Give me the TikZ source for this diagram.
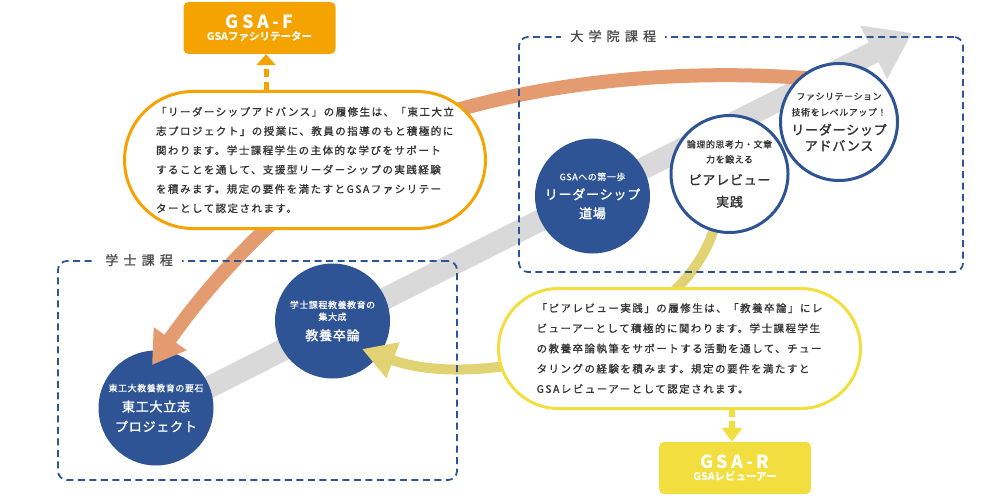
\documentclass[tikz,border=0pt]{standalone}
\usepackage{fontspec}
\setmainfont{Noto Sans CJK JP}
\newfontfamily\bodyfont[LetterSpace=14,FakeBold=0.9]{Noto Sans CJK JP}
\newfontfamily\tagfont[LetterSpace=6,FakeBold=0.8]{Noto Sans CJK JP}
\newfontfamily\stagefont[LetterSpace=6,FakeBold=1.6]{Noto Sans CJK JP}
\newfontfamily\coursefont[LetterSpace=40,FakeBold=1]{Noto Sans CJK JP}
\newfontfamily\gsafont[LetterSpace=18]{Noto Sans CJK JP}
\usetikzlibrary{arrows.meta,positioning}
\definecolor{tkblue}{HTML}{2E5496}
\definecolor{gsaorange}{HTML}{F5A300}
\definecolor{salmon}{HTML}{E49B6F}
\definecolor{gsayellow}{HTML}{F2DF3F}
\definecolor{curveyellow}{HTML}{E1D373}
\definecolor{bandgray}{HTML}{D9D9D9}
\definecolor{inkgray}{HTML}{333333}
\definecolor{labelgray}{HTML}{4A4A4A}
\newcommand\tagline[1]{{\tagfont\fontsize{9}{9}\selectfont #1}}
\tikzset{
  bandarrow/.style={draw=bandgray, line width=22pt, -{Triangle[length=43pt,width=57pt]}},
  curveF/.style={draw=salmon, line width=14pt, -{Triangle[length=32pt,width=38pt]}},
  curveR/.style={draw=curveyellow, line width=10pt, -{Triangle[length=33pt,width=36pt]}},
  course/.style={draw=tkblue, line width=1.8pt, dash pattern=on 7pt off 4.5pt, rounded corners=9pt, inner sep=0pt},
  courselabel/.style={fill=white, inner xsep=9pt, inner ysep=3pt, text=labelgray, font=\coursefont\fontsize{13}{13}\selectfont},
  bubble/.style={draw=#1, line width=3pt, fill=white, align=left, inner sep=0pt, text=inkgray},
  stage/.style={circle, fill=tkblue, minimum size=115pt, inner sep=0pt, align=center, text=white},
  stagering/.style={circle, draw=tkblue, line width=3pt, fill=white, minimum size=117pt, inner sep=0pt, align=center, text=inkgray},
  gsabox/.style={fill=#1, rounded corners=5pt, minimum width=152pt, minimum height=52pt, inner sep=0pt, align=center, text=white},
  dashF/.style={draw=gsaorange, line width=5pt, dash pattern=on 8pt off 5pt, -{Triangle[length=11pt,width=19pt]}},
  dashR/.style={draw=gsayellow, line width=6pt, dash pattern=on 7pt off 4pt, -{Triangle[length=14pt,width=20pt]}}
}
\begin{document}
\begin{tikzpicture}[x=1pt,y=-1pt]
\useasboundingbox (0,0) rectangle (1000,500);
% big grey arrow behind everything
\coordinate (bandtail) at (156,414);
\coordinate (bandtip) at (912,33);
\draw[bandarrow] (bandtail) -- (bandtip);
% filled stages
\node[stage, font=\stagefont\fontsize{13}{20}\selectfont] (kokorozashi) at (156,408) {\tagline{東工大教養教育の要石}\\東工大立志\\プロジェクト};
\node[stage, font=\stagefont\fontsize{13}{20}\selectfont] (sotsuron) at (332.5,321) {\tagline{学士課程教養教育の}\\[-8pt]\tagline{集大成}\\教養卒論};
\node[stage, font=\stagefont\fontsize{13}{19}\selectfont] (dojo) at (592.5,196) {\tagline{GSAへの第一歩}\\リーダーシップ\\道場};
% curved arrows
\coordinate (fstart) at (830,80);
\coordinate (fmid) at (440,115);
\coordinate (ftip) at (152,365);
\draw[curveF] (fstart) .. controls (700,68) and (560,78) .. (fmid) .. controls (344,145) and (232,250) .. (ftip);
\coordinate (rstart) at (716,222);
\coordinate (rtip) at (362,349);
\draw[curveR] (rstart) .. controls (684,345) and (480,392) .. (rtip);
% course frames
\node[course, minimum width=399pt, minimum height=219pt] (gakushi) at (257.5,370.5) {};
\node[courselabel, right=39pt of gakushi.north west] (gakushi-label) {学士課程};
\node[course, minimum width=444pt, minimum height=235pt] (daigakuin) at (741,154.5) {};
\node[courselabel, right=43pt of daigakuin.north west] (daigakuin-label) {大学院課程};
% speech bubbles
\node[bubble=gsaorange, minimum width=361pt, minimum height=137pt, rounded corners=68.5pt, font=\bodyfont\fontsize{10.5}{19.3}\selectfont] (bubbleF) at (305,160)
  {「リーダーシップアドバンス」の履修生は、「東工大立\\志プロジェクト」の授業に、教員の指導のもと積極的に\\関わります。学士課程学生の主体的な学びをサポート\\することを通して、支援型リーダーシップの実践経験\\を積みます。規定の要件を満たすとGSAファシリテー\\ターとして認定されます。};
\node[bubble=gsayellow, minimum width=362pt, minimum height=120pt, rounded corners=60pt, font=\bodyfont\fontsize{10.5}{20.2}\selectfont] (bubbleR) at (679.5,348.5)
  {「ピアレビュー実践」の履修生は、「教養卒論」にレ\\ビューアーとして積極的に関わります。学士課程学生\\の教養卒論執筆をサポートする活動を通して、チュー\\タリングの経験を積みます。規定の要件を満たすと\\GSAレビューアーとして認定されます。};
% ringed stages
\node[stagering, font=\stagefont\fontsize{13}{22}\selectfont] (peer) at (729.5,174) {\tagline{論理的思考力・文章}\\[-7pt]\tagline{力を鍛える}\\ピアレビュー\\実践};
\node[stagering, font=\stagefont\fontsize{13}{16}\selectfont] (advance) at (839,122) {\tagline{ファシリテーション}\\\tagline{技術をレベルアップ！}\\[3pt]リーダーシップ\\アドバンス};
% certificates
\node[gsabox=gsaorange] (gsaF) at (259.5,28) {{\gsafont\bfseries\fontsize{18}{21}\selectfont GSA-F}\\{\bfseries\fontsize{10.5}{12}\selectfont GSAファシリテーター}};
\node[gsabox=gsayellow] (gsaR) at (735,468) {{\gsafont\bfseries\fontsize{18}{21}\selectfont GSA-R}\\{\bfseries\fontsize{10.5}{12}\selectfont GSAレビューアー}};
\draw[dashF] ([xshift=6.5pt]gsaF.south |- bubbleF.north) -- ([xshift=6.5pt]gsaF.south);
\draw[dashR] ([xshift=-3pt]gsaR.north |- bubbleR.south) -- ([xshift=-3pt]gsaR.north);
\end{tikzpicture}
\end{document}
